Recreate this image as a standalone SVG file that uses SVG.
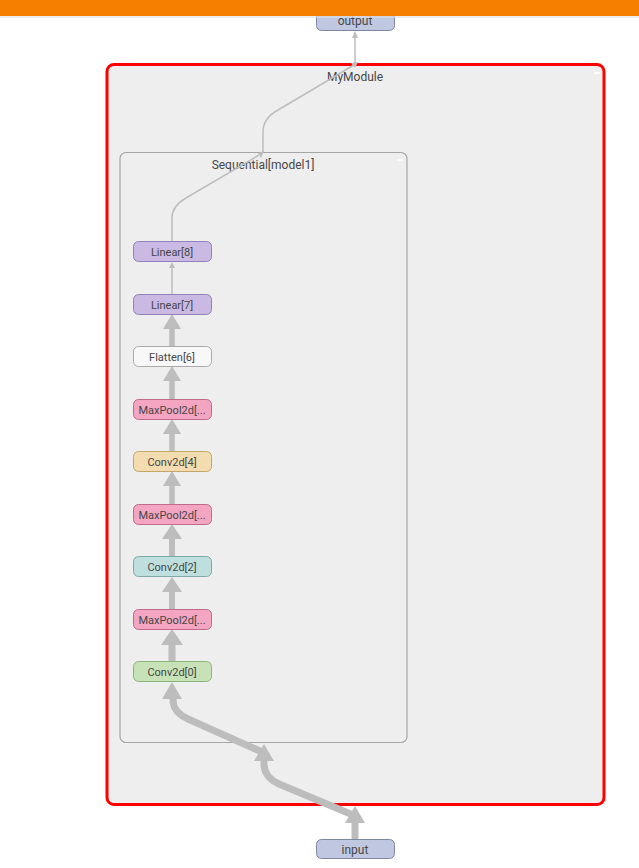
<svg xmlns="http://www.w3.org/2000/svg" width="639" height="868" viewBox="0 0 639 868">
<style>
  text { font-family: Roboto, "Liberation Sans", sans-serif; font-size: 11px; fill: #474747; text-anchor: middle; }
  .lbl { font-size: 12px; }
  .node rect { stroke-width: 1; }
  .e { fill: none; stroke: #bdbdbd; stroke-linecap: butt; }
  .ah { fill: #bdbdbd; }
</style>
<rect x="0" y="0" width="639" height="868" fill="#ffffff"/>

<g id="MyModule">
  <rect x="107" y="64.5" width="497" height="740" rx="7" fill="#eeeeee" stroke="#ff0000" stroke-width="3"/>
  <text class="lbl" x="355" y="81">MyModule</text>
  <line x1="594" y1="73" x2="600" y2="73" stroke="#ffffff" stroke-width="1.5"/>
</g>

<g id="Sequential_model1">
  <rect x="120" y="152.5" width="287" height="590" rx="6" fill="#eeeeee" stroke="#a6a6a6" stroke-width="1.2"/>
  <text class="lbl" x="263" y="169">Sequential[model1]</text>
  <line x1="397" y1="160" x2="403" y2="160" stroke="#ffffff" stroke-width="1.5"/>
</g>

<g id="connectors">
  <line class="e" x1="355" y1="839" x2="355" y2="820" stroke-width="7"/>
  <polygon class="ah" points="355,806 345,823 365,823"/>
  <path class="e" d="M353 815 L279 784 Q264 777 264 764 L264 756" stroke-width="7"/>
  <polygon class="ah" points="264,744 254,761 274,761"/>
  <path class="e" d="M262 752 L188 719 Q173 712 173 700 L173 694" stroke-width="7"/>
  <polygon class="ah" points="172,682 162,699 182,699"/>
  <line class="e" x1="172" y1="661" x2="172" y2="642" stroke-width="7"/>
  <polygon class="ah" points="172,629 161,645 183,645"/>
  <line class="e" x1="172" y1="609" x2="172" y2="590" stroke-width="6"/>
  <polygon class="ah" points="172,577 162,592 182,592"/>
  <line class="e" x1="172" y1="556" x2="172" y2="537" stroke-width="6"/>
  <polygon class="ah" points="172,524 162,539 182,539"/>
  <line class="e" x1="172" y1="504" x2="172" y2="484" stroke-width="5.5"/>
  <polygon class="ah" points="172,471 163,486 181,486"/>
  <line class="e" x1="172" y1="451" x2="172" y2="432" stroke-width="5.5"/>
  <polygon class="ah" points="172,419 163,434 181,434"/>
  <line class="e" x1="172" y1="399" x2="172" y2="379" stroke-width="5.5"/>
  <polygon class="ah" points="172,366 163,381 181,381"/>
  <line class="e" x1="172" y1="346" x2="172" y2="327" stroke-width="5.5"/>
  <polygon class="ah" points="172,314 163,329 181,329"/>
  <line class="e" x1="172" y1="294" x2="172" y2="267" stroke-width="1.5"/>
  <polygon class="ah" points="172,262 169,268 175,268"/>
  <path class="e" d="M172 241 L172 218 Q172 206 186 198 L259 155" stroke-width="1.5"/>
  <polygon class="ah" points="264,151 258,153 261,158"/>
  <path class="e" d="M263 152 L263 132 Q263 118 278 110 L354 65" stroke-width="1.5"/>
  <polygon class="ah" points="358,62 351,63 355,68"/>
  <line class="e" x1="355" y1="64" x2="355" y2="37" stroke-width="1.5"/>
  <polygon class="ah" points="355,31 352,38 358,38"/>
</g>

<g id="output" class="node">
  <rect x="316.5" y="8.5" width="78" height="22" rx="5" fill="#bfc8e0" stroke="#7c87a6"/>
  <text class="lbl" x="355" y="25">output</text>
</g>

<rect x="0" y="0" width="639" height="16" fill="#f77f00"/>
<rect x="0" y="16" width="639" height="2" fill="#e0e0e0" opacity="0.6"/>

<g id="input" class="node">
  <rect x="316.5" y="839.5" width="78" height="19" rx="5" fill="#bfc8e0" stroke="#7c87a6"/>
  <text class="lbl" x="355" y="853.5">input</text>
</g>

<g id="Linear8" class="node">
  <rect x="133.5" y="241.5" width="78" height="20" rx="5" fill="#c9b9e3" stroke="#9480bd"/>
  <text x="172" y="255.5">Linear[8]</text>
</g>
<g id="Linear7" class="node">
  <rect x="133.5" y="294.5" width="78" height="20" rx="5" fill="#c9b9e3" stroke="#9480bd"/>
  <text x="172" y="308.5">Linear[7]</text>
</g>
<g id="Flatten6" class="node">
  <rect x="133.5" y="346.5" width="78" height="20" rx="5" fill="#f8f8f8" stroke="#aaaaaa"/>
  <text x="172" y="360.5">Flatten[6]</text>
</g>
<g id="MaxPool2d5" class="node">
  <rect x="133.5" y="399.5" width="78" height="20" rx="5" fill="#f3a5c2" stroke="#c06a8c"/>
  <text x="172" y="413.5">MaxPool2d[...</text>
</g>
<g id="Conv2d4" class="node">
  <rect x="133.5" y="451.5" width="78" height="20" rx="5" fill="#f3dcb0" stroke="#c4a66a"/>
  <text x="172" y="465.5">Conv2d[4]</text>
</g>
<g id="MaxPool2d3" class="node">
  <rect x="133.5" y="504.5" width="78" height="20" rx="5" fill="#f3a5c2" stroke="#c06a8c"/>
  <text x="172" y="518.5">MaxPool2d[...</text>
</g>
<g id="Conv2d2" class="node">
  <rect x="133.5" y="556.5" width="78" height="20" rx="5" fill="#bfdfdf" stroke="#7fa9a9"/>
  <text x="172" y="570.5">Conv2d[2]</text>
</g>
<g id="MaxPool2d1" class="node">
  <rect x="133.5" y="609.5" width="78" height="20" rx="5" fill="#f3a5c2" stroke="#c06a8c"/>
  <text x="172" y="623.5">MaxPool2d[...</text>
</g>
<g id="Conv2d0" class="node">
  <rect x="133.5" y="661.5" width="78" height="20" rx="5" fill="#c8e2b8" stroke="#8ab57a"/>
  <text x="172" y="675.5">Conv2d[0]</text>
</g>
</svg>
